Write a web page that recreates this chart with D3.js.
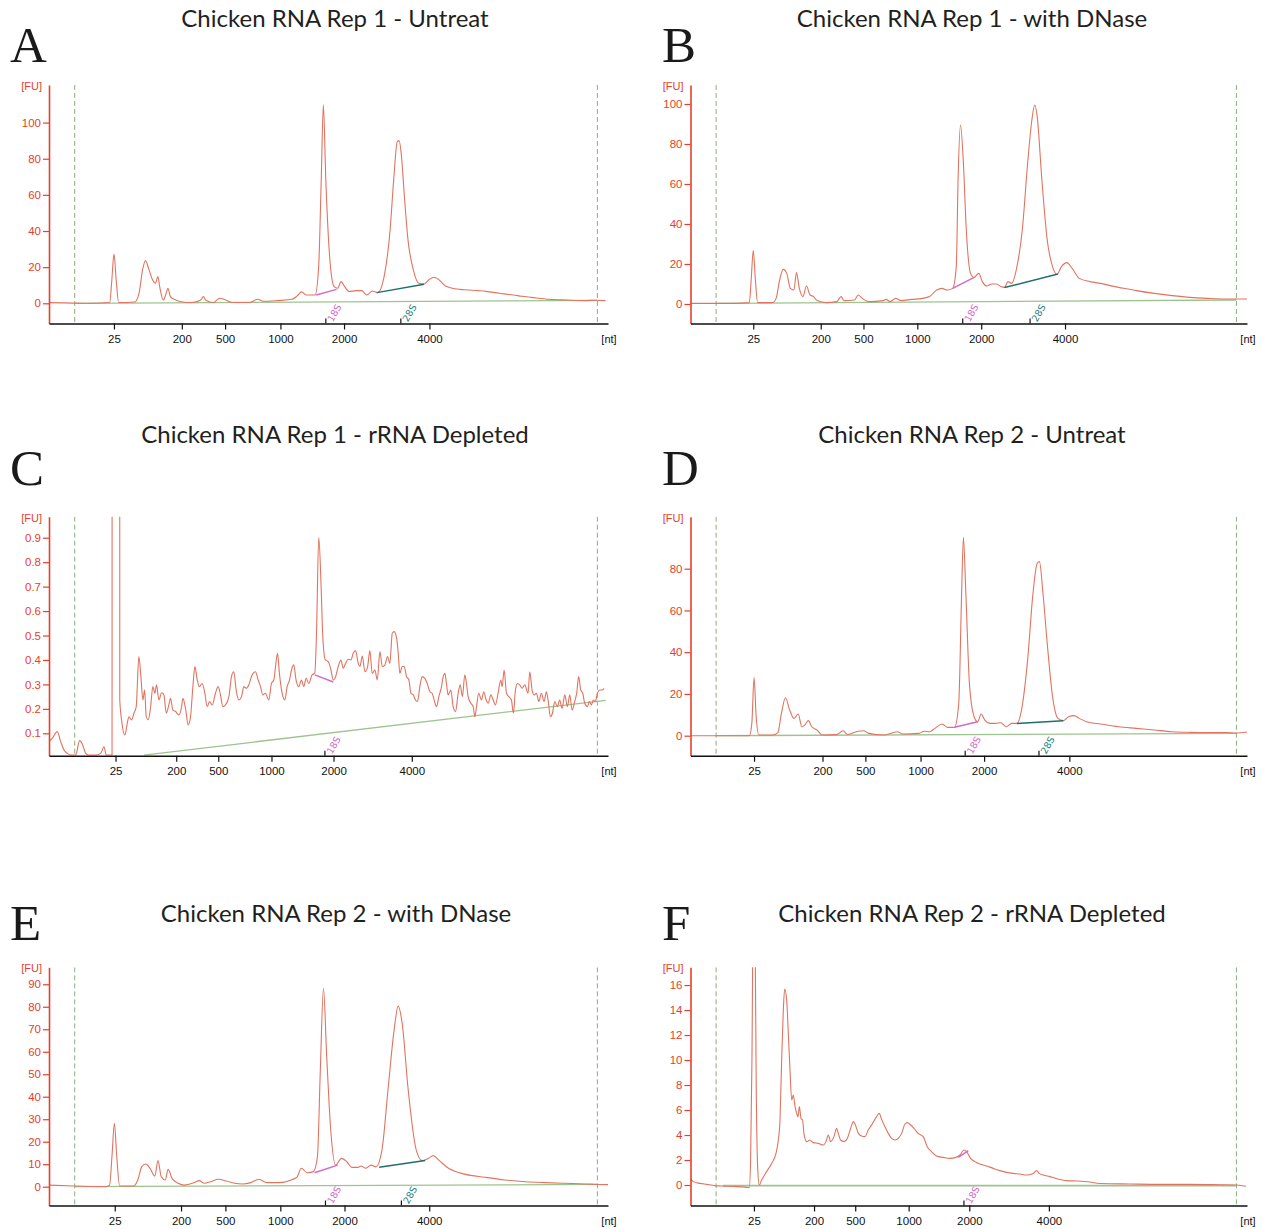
<!DOCTYPE html>
<html>
<head>
<meta charset="utf-8">
<script src="https://cdn.jsdelivr.net/npm/d3@7"></script>
<style>
body { margin: 0; background: #fff; }
svg text { font-family: "Liberation Sans", Arial, sans-serif; }
</style>
</head>
<body>
<svg id="chart" width="1263" height="1229"></svg>
<script>
// panel titles and letters
var titles = [
	"Chicken RNA Rep 1 - Untreat",
	"Chicken RNA Rep 1 - with DNase",
	"Chicken RNA Rep 1 - rRNA Depleted",
	"Chicken RNA Rep 2 - Untreat",
	"Chicken RNA Rep 2 - with DNase",
	"Chicken RNA Rep 2 - rRNA Depleted"
];
var letters = ["A", "B", "C", "D", "E", "F"];

// ladder sizes shown under each x axis, and where they sit in migration time (s)
var sizeLabels = ["25", "200", "500", "1000", "2000", "4000"];
var ladderA = [24.81, 30.88, 34.75, 39.7, 45.39, 53.03];
var ladderB = [24.64, 30.7, 34.54, 39.38, 45.12, 52.65];
var ladderC = [24.95, 30.38, 34.14, 38.9, 44.45, 51.45];
var ladderD = [24.71, 30.86, 34.71, 39.67, 45.38, 53.04];
var ladderE = [24.88, 30.81, 34.78, 39.69, 45.43, 53.01];
var ladderF = [24.7, 30.1, 33.8, 38.6, 44.05, 51.2];

// y ticks
var yTicksA = [0, 20, 40, 60, 80, 100];
var yTicksB = [0, 20, 40, 60, 80, 100];
var yTicksC = [0.1, 0.2, 0.3, 0.4, 0.5, 0.6, 0.7, 0.8, 0.9];
var yTicksD = [0, 20, 40, 60, 80];
var yTicksE = [0, 10, 20, 30, 40, 50, 60, 70, 80, 90];
var yTicksF = [0, 2, 4, 6, 8, 10, 12, 14, 16];

// lower / upper markers (dashed lines), time in s
var markerTimes = [21.3, 68.05];

// electropherograms: [time s, FU]
var traceA = [[19.0,0.4],[22.83,0.0],[24.43,0.4],[24.62,12.9],[24.81,27.3],[25.01,12.9],[25.23,0.4],[26.67,0.7],[27.05,5.5],[27.37,18.5],[27.63,23.6],[27.95,18.5],[28.27,12.9],[28.52,11.1],[28.74,14.8],[28.9,9.2],[29.22,1.8],[29.48,5.5],[29.64,8.3],[29.86,3.7],[30.34,1.8],[30.82,0.9],[31.78,0.4],[32.58,1.8],[32.8,3.7],[33.06,1.5],[33.7,0.4],[34.27,2.8],[34.81,1.8],[35.45,0.4],[36.89,0.4],[37.69,2.2],[38.17,1.1],[39.45,1.5],[40.73,2.2],[41.2,4.1],[41.59,6.3],[42.0,4.6],[42.8,4.6],[43.12,20.3],[43.35,68.3],[43.54,109.8],[43.76,68.3],[44.08,27.7],[44.5,9.2],[44.81,8.3],[45.13,12.0],[45.45,9.2],[45.84,6.5],[46.48,7.0],[46.96,7.0],[47.43,4.6],[47.91,6.8],[48.39,5.9],[49.03,16.6],[49.51,40.6],[49.83,68.3],[50.15,89.5],[50.31,90.0],[50.53,81.2],[50.79,59.0],[51.11,35.1],[51.59,18.5],[52.07,11.1],[52.55,10.7],[53.03,13.3],[53.44,14.4],[53.82,13.3],[54.46,9.6],[55.74,7.7],[56.5,7.4],[57.34,7.0],[58.1,6.6],[58.94,5.9],[59.7,5.2],[60.53,4.6],[61.3,3.9],[62.13,3.3],[63.73,2.2],[65.33,1.8],[66.92,1.5],[67.88,1.7],[68.78,1.5]];

var traceB = [[19.0,0.3],[22.85,0.3],[24.29,0.7],[24.45,12.0],[24.64,26.7],[24.83,12.0],[25.03,0.7],[26.37,0.7],[26.69,2.8],[27.01,12.0],[27.33,17.3],[27.65,15.3],[27.97,7.8],[28.29,7.0],[28.52,15.7],[28.78,7.8],[29.1,3.7],[29.42,9.0],[29.74,4.5],[30.06,3.7],[30.38,1.7],[31.18,0.7],[32.14,1.2],[32.53,3.7],[32.78,1.7],[33.74,2.0],[34.06,4.5],[34.54,2.3],[35.03,1.2],[36.31,1.7],[36.56,2.3],[36.95,1.2],[37.43,2.8],[37.91,1.7],[38.87,2.3],[39.83,2.8],[40.47,3.7],[41.12,7.0],[41.6,7.8],[42.08,7.0],[42.56,7.8],[42.88,18.7],[43.04,62.0],[43.26,89.5],[43.52,70.3],[43.78,37.0],[44.16,15.3],[44.48,13.3],[44.9,15.3],[45.22,11.2],[45.6,9.0],[46.08,10.0],[46.5,10.0],[46.88,8.7],[47.21,8.3],[47.53,11.2],[47.85,10.3],[48.33,18.7],[48.81,37.0],[49.29,70.3],[49.67,92.0],[49.93,99.5],[50.15,93.7],[50.57,62.0],[51.05,32.0],[51.53,18.7],[51.92,14.8],[52.33,18.7],[52.81,20.7],[53.29,17.8],[53.94,12.8],[54.9,11.2],[55.86,10.3],[56.7,9.2],[57.46,8.3],[58.3,7.5],[59.06,6.7],[60.67,5.3],[62.27,4.2],[63.87,3.3],[65.47,2.8],[67.08,2.5],[68.04,2.5],[69.0,2.5]];

var traceC = [[19.0,0.066],[19.3,0.08],[19.74,0.107],[20.04,0.066],[20.34,0.032],[20.64,0.018],[20.94,0.011],[21.38,0.011],[21.74,0.07],[21.98,0.056],[22.28,0.018],[22.57,0.011],[23.17,0.011],[23.62,0.018],[23.92,0.045],[24.12,0.011],[24.64,0.011],[24.68,12],[25.0,15],[25.3,12],[25.33,0.236],[25.49,0.155],[25.79,0.093],[26.0,0.141],[26.15,0.168],[26.39,0.155],[26.6,0.182],[26.8,0.209],[27.04,0.414],[27.22,0.332],[27.4,0.236],[27.55,0.277],[27.7,0.168],[27.88,0.155],[28.09,0.209],[28.29,0.291],[28.47,0.264],[28.62,0.298],[28.83,0.236],[29.07,0.266],[29.28,0.257],[29.49,0.182],[29.72,0.216],[29.87,0.243],[30.08,0.195],[30.32,0.189],[30.62,0.175],[30.86,0.209],[30.97,0.243],[31.21,0.202],[31.45,0.134],[31.66,0.168],[31.87,0.291],[32.05,0.373],[32.26,0.318],[32.46,0.291],[32.7,0.304],[32.94,0.264],[33.15,0.209],[33.36,0.23],[33.6,0.216],[33.89,0.264],[34.13,0.291],[34.34,0.257],[34.55,0.209],[34.79,0.216],[35.09,0.25],[35.32,0.332],[35.53,0.352],[35.74,0.277],[35.98,0.236],[36.22,0.25],[36.43,0.291],[36.63,0.284],[36.87,0.298],[37.17,0.339],[37.47,0.352],[37.71,0.318],[37.92,0.291],[38.12,0.257],[38.36,0.264],[38.66,0.236],[38.9,0.304],[39.11,0.318],[39.26,0.373],[39.44,0.427],[39.61,0.345],[39.85,0.264],[40.09,0.236],[40.3,0.291],[40.51,0.318],[40.69,0.359],[40.89,0.38],[41.1,0.318],[41.34,0.291],[41.58,0.318],[41.79,0.291],[42.0,0.325],[42.24,0.304],[42.53,0.339],[42.77,0.345],[42.92,0.495],[43.13,0.902],[43.34,0.70],[43.49,0.495],[43.72,0.40],[43.98,0.393],[44.22,0.359],[44.43,0.318],[44.64,0.332],[44.87,0.373],[45.11,0.4],[45.32,0.366],[45.53,0.386],[45.77,0.403],[46.01,0.4],[46.21,0.427],[46.42,0.438],[46.66,0.386],[46.81,0.373],[47.02,0.416],[47.26,0.352],[47.5,0.373],[47.7,0.438],[47.91,0.345],[48.15,0.359],[48.36,0.318],[48.6,0.434],[48.81,0.373],[49.04,0.379],[49.28,0.414],[49.49,0.386],[49.7,0.509],[49.88,0.516],[50.09,0.489],[50.24,0.427],[50.38,0.345],[50.59,0.373],[50.77,0.373],[50.98,0.332],[51.19,0.318],[51.37,0.264],[51.58,0.257],[51.78,0.236],[51.96,0.23],[52.17,0.291],[52.38,0.332],[52.62,0.325],[52.83,0.304],[53.07,0.27],[53.27,0.264],[53.45,0.236],[53.66,0.209],[53.87,0.25],[54.11,0.291],[54.26,0.332],[54.41,0.345],[54.55,0.304],[54.7,0.257],[54.94,0.277],[55.15,0.209],[55.36,0.189],[55.6,0.264],[55.78,0.298],[55.98,0.25],[56.19,0.339],[56.34,0.304],[56.49,0.25],[56.73,0.223],[56.94,0.209],[57.09,0.168],[57.24,0.209],[57.44,0.264],[57.68,0.236],[57.89,0.27],[58.1,0.236],[58.28,0.223],[58.52,0.257],[58.73,0.236],[58.93,0.216],[59.17,0.264],[59.41,0.318],[59.53,0.291],[59.71,0.359],[59.92,0.264],[60.13,0.25],[60.36,0.236],[60.54,0.182],[60.72,0.277],[60.9,0.304],[61.11,0.298],[61.32,0.284],[61.56,0.298],[61.85,0.264],[62.0,0.352],[62.21,0.277],[62.39,0.257],[62.6,0.264],[62.81,0.23],[63.04,0.264],[63.28,0.23],[63.49,0.27],[63.64,0.236],[63.85,0.168],[64.03,0.182],[64.24,0.23],[64.47,0.209],[64.68,0.236],[64.89,0.202],[65.13,0.257],[65.37,0.209],[65.58,0.257],[65.79,0.195],[66.02,0.23],[66.2,0.264],[66.38,0.332],[66.56,0.277],[66.74,0.264],[66.92,0.223],[67.16,0.209],[67.33,0.23],[67.51,0.216],[67.69,0.236],[67.87,0.23],[68.05,0.264],[68.26,0.277],[68.47,0.277],[68.65,0.284]];

var traceD = [[19.0,0.0],[24.29,0.0],[24.51,5.9],[24.71,27.8],[24.9,9.1],[25.15,0.3],[26.37,0.3],[26.85,1.5],[27.17,10.7],[27.53,18.2],[27.91,12.3],[28.29,8.3],[28.68,10.4],[29.0,4.3],[29.26,5.1],[29.58,7.2],[29.9,4.3],[30.38,2.7],[30.86,0.3],[32.14,0.5],[32.72,2.4],[33.1,0.6],[34.06,2.1],[34.54,2.4],[35.03,1.1],[36.31,0.3],[37.59,1.9],[38.07,0.8],[39.51,1.1],[39.99,2.1],[40.47,1.9],[40.96,3.5],[41.6,5.6],[42.08,4.0],[42.72,4.0],[43.1,15.5],[43.36,68.2],[43.52,95.0],[43.74,68.2],[44.06,25.1],[44.48,9.1],[44.8,6.7],[45.12,10.4],[45.44,7.5],[45.92,5.9],[46.4,5.9],[46.88,6.2],[47.37,4.3],[47.85,5.9],[48.33,5.9],[48.74,12.3],[49.29,36.3],[49.77,68.2],[50.15,82.6],[50.35,83.4],[50.67,68.2],[51.05,44.3],[51.53,18.7],[52.01,8.3],[52.49,7.2],[52.97,9.1],[53.46,9.6],[53.94,8.3],[54.58,6.7],[55.86,5.6],[57.46,4.3],[59.06,3.5],[60.67,2.7],[62.27,1.9],[63.87,1.6],[65.47,1.5],[67.08,1.5],[68.04,1.3],[69.0,1.8]];

var traceE = [[19.07,0.7],[21.17,0.3],[24.05,0.0],[24.42,0.7],[24.63,13.3],[24.85,28.2],[25.06,13.3],[25.32,0.3],[26.58,0.3],[26.94,3.0],[27.3,8.9],[27.66,10.1],[28.03,8.2],[28.46,4.7],[28.75,11.6],[29.04,4.4],[29.4,3.0],[29.65,7.7],[30.01,3.7],[30.55,1.5],[31.09,0.7],[31.99,1.8],[32.43,2.7],[32.9,1.5],[33.44,2.2],[34.16,3.3],[34.88,2.5],[35.61,1.5],[36.33,1.2],[37.05,1.8],[37.77,3.3],[38.49,1.8],[39.58,1.8],[40.66,3.0],[41.2,4.4],[41.56,8.2],[42.1,6.2],[42.65,6.7],[43.01,13.3],[43.26,50.4],[43.55,88.2],[43.84,57.8],[44.2,25.2],[44.63,9.6],[45.17,12.6],[45.64,11.1],[46.08,8.6],[46.62,8.6],[46.91,9.2],[47.34,8.2],[47.81,9.6],[48.24,8.9],[48.78,16.3],[49.32,43.0],[49.87,69.7],[50.23,80.3],[50.59,72.6],[51.13,43.0],[51.85,16.3],[52.39,11.6],[52.94,12.6],[53.37,13.8],[53.84,11.9],[54.74,8.2],[56.18,5.6],[57.99,4.2],[59.79,3.0],[61.6,2.2],[63.4,1.8],[65.21,1.5],[67.01,1.2],[68.1,1.0],[69.0,0.9]];

var traceF = [[18.96,0.53],[19.25,0.27],[19.85,0.13],[20.45,0.05],[21.2,-0.05],[21.8,-0.08],[23.15,-0.13],[24.05,-0.19],[24.28,-0.21],[24.4,2.0],[24.52,10.0],[24.7,30.0],[24.91,7.33],[25.03,1.47],[25.18,0.0],[25.39,0.4],[25.84,1.07],[26.29,1.73],[26.68,2.53],[26.89,3.6],[27.04,5.2],[27.19,10.0],[27.34,14.0],[27.46,15.68],[27.64,14.8],[27.79,12.13],[27.94,9.2],[28.09,6.8],[28.24,7.2],[28.39,6.27],[28.54,5.73],[28.66,5.47],[28.78,6.27],[28.93,5.33],[29.07,5.2],[29.19,4.13],[29.43,3.47],[29.73,3.6],[30.03,3.39],[30.48,3.33],[30.93,3.2],[31.17,3.47],[31.38,4.0],[31.59,3.47],[31.89,3.87],[32.13,4.53],[32.28,4.13],[32.49,3.6],[32.79,3.47],[33.09,3.73],[33.39,4.53],[33.63,5.07],[33.87,4.67],[34.08,4.13],[34.37,3.92],[34.67,3.87],[34.97,4.4],[35.36,4.93],[35.72,5.47],[35.96,5.73],[36.17,5.25],[36.47,4.67],[36.77,4.13],[37.07,3.73],[37.37,3.6],[37.67,3.73],[37.97,4.13],[38.27,4.88],[38.48,4.99],[38.78,4.8],[39.08,4.53],[39.46,4.13],[39.91,3.87],[40.27,3.07],[40.66,2.67],[41.11,2.32],[41.71,2.21],[42.31,2.13],[42.85,2.21],[43.21,2.4],[43.57,2.8],[43.87,2.59],[44.16,2.13],[44.55,1.87],[45.0,1.68],[45.6,1.52],[46.2,1.33],[46.8,1.15],[47.4,1.01],[47.99,0.93],[48.59,0.88],[49.19,0.8],[49.79,0.93],[50.09,1.15],[50.33,0.93],[50.69,0.8],[51.29,0.67],[51.89,0.51],[52.79,0.35],[53.69,0.32],[54.88,0.24],[55.79,0.12],[58.49,0.08],[61.18,0.05],[63.88,0.05],[66.58,0.02],[67.92,0.0],[68.91,-0.1]];

// rRNA peaks: name and migration time of the marker tick
var rrnaA = [["18S", 43.76], ["28S", 50.47]];
var rrnaB = [["18S", 43.46], ["28S", 49.51]];
var rrnaC = [["18S", 43.68]];
var rrnaD = [["18S", 43.68], ["28S", 50.31]];
var rrnaE = [["18S", 43.73], ["28S", 50.52]];
var rrnaF = [["18S", 43.57]];

// peak baselines drawn under the rRNA peaks: [[t1, v1], [t2, v2]]
var peakBaseA = [[[42.9, 4.6], [44.72, 7.7]], [[48.33, 5.9], [52.55, 10.5]]];
var peakBaseB = [[[42.56, 7.8], [44.48, 13.3]], [[47.21, 8.2], [52.01, 15.0]]];
var peakBaseC = [[[42.77, 0.339], [44.43, 0.31]]];
var peakBaseD = [[[42.72, 4.0], [44.8, 6.7]], [[48.33, 5.9], [52.49, 7.2]]];
var peakBaseE = [[[42.75, 6.2], [44.81, 9.6]], [[48.53, 8.6], [52.65, 11.6]]];
var peakBaseF = [[[43.06, 2.21], [43.96, 2.75]]];

// run baselines (green)
var runBaseA = [[21.3, 0.0], [68.05, 1.6]];
var runBaseB = [[21.25, 0.3], [68.05, 2.0]];
var runBaseC = [[27.5, 0.011], [68.8, 0.235]];
var runBaseD = [[21.25, 0.0], [68.05, 1.1]];
var runBaseE = [[21.3, 0.0], [68.05, 1.0]];
var runBaseF = [[21.9, -0.05], [68.0, -0.05]];

var colors = {
	trace: "#e2735f",
	axisY: "#e8402a",
	marker: "#86b276",
	runBase: "#9cc48e",
	s18: "#d26bc8",
	s28: "#1f6f6e",
	s28text: "#2a8582"
};

// layout: one entry per panel
var panels = [
	{ trace: traceA, ladder: ladderA, yt: yTicksA, rrna: rrnaA, pb: peakBaseA, rb: runBaseA, x0: 49, x1: 608, top: 85, base: 323.5, yd: [-11.18, 120.8], tx: 335, ty: 27, lx: 10, ly: 62, fmt: "d" },
	{ trace: traceB, ladder: ladderB, yt: yTicksB, rrna: rrnaB, pb: peakBaseB, rb: runBaseB, x0: 690.5, x1: 1247, top: 85, base: 323.5, yd: [-9.75, 109.5], tx: 972, ty: 27, lx: 662, ly: 62, fmt: "d" },
	{ trace: traceC, ladder: ladderC, yt: yTicksC, rrna: rrnaC, pb: peakBaseC, rb: runBaseC, x0: 49, x1: 608, top: 516.7, base: 755.7, yd: [0.0084, 0.986], tx: 335, ty: 443, lx: 10, ly: 485, fmt: ".1f" },
	{ trace: traceD, ladder: ladderD, yt: yTicksD, rrna: rrnaD, pb: peakBaseD, rb: runBaseD, x0: 690.5, x1: 1247, top: 516.7, base: 755.7, yd: [-9.58, 104.9], tx: 972, ty: 443, lx: 662, ly: 485, fmt: "d" },
	{ trace: traceE, ladder: ladderE, yt: yTicksE, rrna: rrnaE, pb: peakBaseE, rb: runBaseE, x0: 49, x1: 608, top: 967.3, base: 1205.5, yd: [-8.36, 97.55], tx: 336, ty: 921.5, lx: 10, ly: 940, fmt: "d" },
	{ trace: traceF, ladder: ladderF, yt: yTicksF, rrna: rrnaF, pb: peakBaseF, rb: runBaseF, x0: 690.5, x1: 1247, top: 967.3, base: 1205.5, yd: [-1.64, 17.42], tx: 972, ty: 921.5, lx: 662, ly: 940, fmt: "d" }
];

var svg = d3.select("#chart");

panels.forEach(function (p, i) {
	var x = d3.scaleLinear().domain([19, 69]).range([p.x0, p.x1]);
	var y = d3.scaleLinear().domain(p.yd).range([p.base, p.top]);
	var g = svg.append("g");

	// title and panel letter
	g.append("text")
		.attr("x", p.tx).attr("y", p.ty)
		.attr("text-anchor", "middle")
		.style("font-family", "Lato, 'Open Sans', sans-serif")
		.style("font-size", "24px")
		.attr("fill", "#231f20")
		.text(titles[i]);

	g.append("text")
		.attr("x", p.lx).attr("y", p.ly)
		.style("font-family", "'Liberation Serif', 'Times New Roman', serif")
		.style("font-size", "51px")
		.attr("fill", "#1a1a1a")
		.text(letters[i]);

	var clipId = "clip" + i;
	g.append("clipPath").attr("id", clipId)
		.append("rect")
		.attr("x", p.x0).attr("y", p.top)
		.attr("width", p.x1 - p.x0 + 3).attr("height", p.base - p.top);

	var plot = g.append("g").attr("clip-path", "url(#" + clipId + ")");

	// lower / upper marker lines
	plot.selectAll(".mk")
		.data(markerTimes)
		.enter()
		.append("line")
		.attr("x1", function (d) { return x(d); })
		.attr("x2", function (d) { return x(d); })
		.attr("y1", p.top).attr("y2", p.base)
		.attr("stroke", colors.marker)
		.attr("stroke-width", 1)
		.attr("stroke-dasharray", "5,3");

	var line = d3.line()
		.x(function (d) { return x(d[0]); })
		.y(function (d) { return y(d[1]); });

	var smooth = d3.line()
		.curve(d3.curveMonotoneX)
		.x(function (d) { return x(d[0]); })
		.y(function (d) { return y(d[1]); });

	// run baseline
	plot.append("path")
		.attr("d", line(p.rb))
		.attr("fill", "none")
		.attr("stroke", colors.runBase)
		.attr("stroke-width", i === 5 ? 1.8 : 1.3);

	// trace
	plot.append("path")
		.attr("d", smooth(p.trace))
		.attr("fill", "none")
		.attr("stroke", colors.trace)
		.attr("stroke-width", 1.1)
		.attr("stroke-linejoin", "round");

	// peak baselines (18S pink, 28S teal)
	p.pb.forEach(function (seg, k) {
		plot.append("path")
			.attr("d", line(seg))
			.attr("fill", "none")
			.attr("stroke", k === 0 ? colors.s18 : colors.s28)
			.attr("stroke-width", 1.5);
	});

	// y axis
	var yAxis = d3.axisLeft(y)
		.tickValues(p.yt)
		.tickFormat(d3.format(p.fmt))
		.tickSize(6)
		.tickSizeOuter(0)
		.tickPadding(2);

	var ya = g.append("g")
		.attr("transform", "translate(" + p.x0 + ",0)")
		.call(yAxis);
	ya.select(".domain").attr("stroke", colors.axisY).attr("stroke-width", 1.6);
	ya.selectAll(".tick line").attr("stroke", colors.axisY).attr("stroke-width", 1.2);
	ya.selectAll(".tick text")
		.attr("fill", colors.axisY)
		.style("font-size", "11.5px");

	g.append("text")
		.attr("x", p.x0 - 7).attr("y", p.top + 5)
		.attr("text-anchor", "end")
		.attr("fill", colors.axisY)
		.style("font-size", "11px")
		.text("[FU]");

	// x axis
	var xAxis = d3.axisBottom(x)
		.tickValues(p.ladder)
		.tickFormat(function (d, k) { return sizeLabels[k]; })
		.tickSize(6)
		.tickSizeOuter(0)
		.tickPadding(5);

	var xa = g.append("g")
		.attr("transform", "translate(0," + p.base + ")")
		.call(xAxis);
	xa.select(".domain").attr("stroke", "#111").attr("stroke-width", 1.6);
	xa.selectAll(".tick line").attr("stroke", "#111").attr("stroke-width", 1.2);
	xa.selectAll(".tick text")
		.attr("fill", "#111")
		.style("font-size", "11.5px");

	g.append("text")
		.attr("x", p.x1 + 1).attr("y", p.base + 19)
		.attr("text-anchor", "middle")
		.attr("fill", "#111")
		.style("font-size", "11px")
		.text("[nt]");

	// rRNA marker ticks and rotated labels
	p.rrna.forEach(function (r) {
		var mx = x(r[1]);
		g.append("line")
			.attr("x1", mx).attr("x2", mx)
			.attr("y1", p.base).attr("y2", p.base - 5)
			.attr("stroke", "#111")
			.attr("stroke-width", 1.2);
		g.append("text")
			.attr("transform", "translate(" + (mx + 7) + "," + (p.base - 1) + ") rotate(-60)")
			.attr("fill", r[0] === "18S" ? colors.s18 : colors.s28text)
			.style("font-family", "'DejaVu Sans', Verdana, sans-serif")
			.style("font-size", "9.5px")
			.text(r[0]);
	});
});
</script>
</body>
</html>
